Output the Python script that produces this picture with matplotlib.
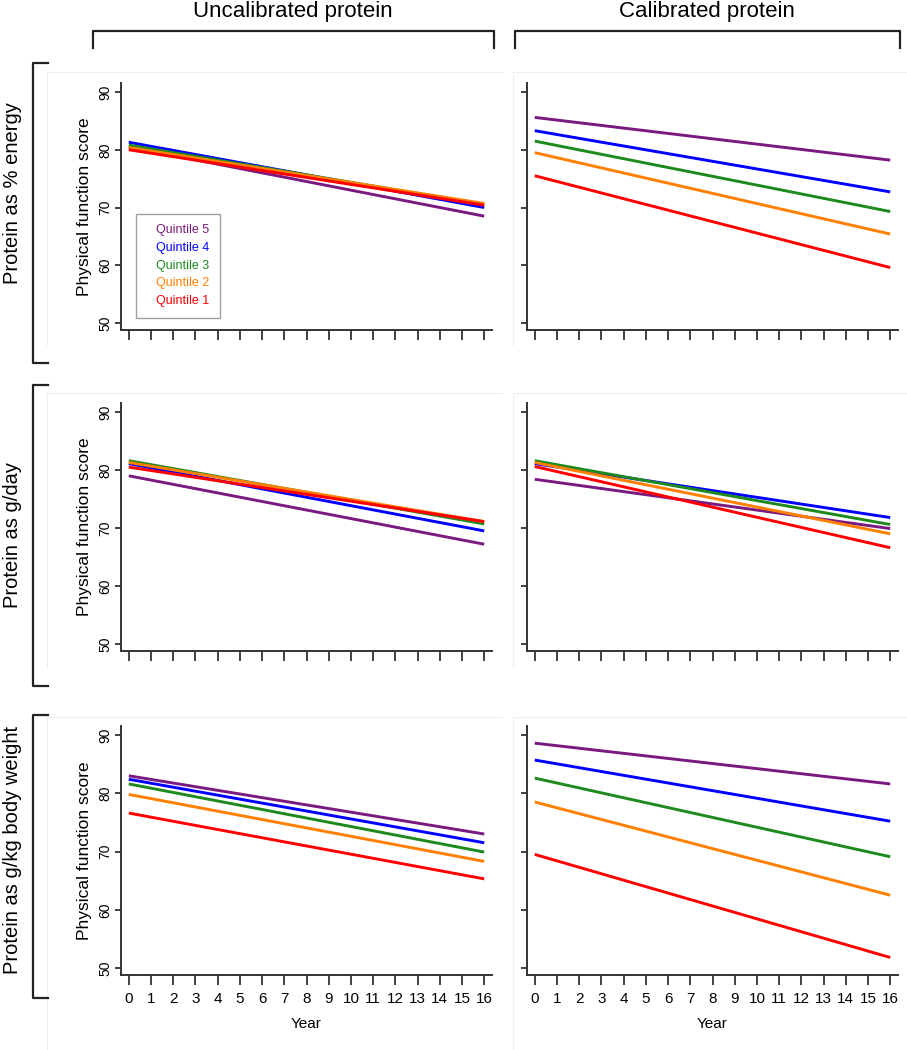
import matplotlib
matplotlib.use("Agg")
import matplotlib.pyplot as plt
from matplotlib.lines import Line2D

W, H = 907, 1050

years = [0, 16]
xticks = list(range(17))
yticks = [50, 60, 70, 80, 90]
quintiles = ["Quintile 1", "Quintile 2", "Quintile 3", "Quintile 4", "Quintile 5"]
colors = ["#ff0000", "#ff7f00", "#1e8a1e", "#0000ff", "#7a1a80"]

col_titles = ["Uncalibrated protein", "Calibrated protein"]
row_titles = ["Protein as % energy", "Protein as g/day", "Protein as g/kg body weight"]

# score at year 0 and year 16, quintile 1..5
energy_uncal_start = [80.0, 80.4, 80.8, 81.3, 80.5]
energy_uncal_end = [70.4, 70.7, 70.5, 70.0, 68.5]
energy_cal_start = [75.5, 79.5, 81.5, 83.3, 85.6]
energy_cal_end = [59.6, 65.4, 69.3, 72.7, 78.2]

gday_uncal_start = [80.5, 81.3, 81.6, 81.1, 79.0]
gday_uncal_end = [71.1, 71.1, 70.7, 69.5, 67.2]
gday_cal_start = [80.6, 81.3, 81.6, 81.1, 78.4]
gday_cal_end = [66.6, 69.0, 70.6, 71.8, 69.9]

gkg_uncal_start = [76.6, 79.8, 81.6, 82.4, 83.0]
gkg_uncal_end = [65.3, 68.3, 69.9, 71.5, 73.0]
gkg_cal_start = [69.5, 78.5, 82.6, 85.7, 88.6]
gkg_cal_end = [51.8, 62.5, 69.1, 75.2, 81.6]

panels = [
    [(energy_uncal_start, energy_uncal_end), (energy_cal_start, energy_cal_end)],
    [(gday_uncal_start, gday_uncal_end), (gday_cal_start, gday_cal_end)],
    [(gkg_uncal_start, gkg_uncal_end), (gkg_cal_start, gkg_cal_end)],
]

plt.rcParams["font.family"] = ["Liberation Sans", "DejaVu Sans"]
narrow = ["Liberation Sans Narrow", "Liberation Sans", "DejaVu Sans"]

fig = plt.figure(figsize=(W / 100, H / 100), dpi=100)


def fx(x):
    return x / W


def fy(y):
    return 1 - y / H


# layout in pixels
col_left = [121, 527]
col_width = 371
row_y90 = [92, 412, 735]
row_y50 = [323, 644, 968]
ylim = (48.8, 91.5)
xlim = (-0.35, 16.35)

# faint panel frames
for (x0, x1) in [(47, 502), (513, 907)]:
    for (y0, y1) in [(72, 345), (393, 667), (717, 1050)]:
        fig.add_artist(Line2D([fx(x0), fx(x1)], [fy(y0), fy(y0)], color="#e8f0f3", lw=0.8))
        fig.add_artist(Line2D([fx(x0), fx(x0)], [fy(y0), fy(y1)], color="#e8f0f3", lw=0.8))

for r in range(3):
    ppu = (row_y50[r] - row_y90[r]) / 40.0
    top = row_y90[r] - (ylim[1] - 90) * ppu
    bot = row_y50[r] + (50 - ylim[0]) * ppu
    for c in range(2):
        ax = fig.add_axes([fx(col_left[c]), fy(bot), col_width / W, (bot - top) / H])
        starts, ends = panels[r][c]
        for q in range(4, -1, -1):
            ax.plot(years, [starts[q], ends[q]], color=colors[q], lw=2.1,
                    solid_capstyle="butt", label=quintiles[q])
        ax.set_xlim(*xlim)
        ax.set_ylim(*ylim)
        ax.set_xticks(xticks)
        ax.set_yticks(yticks)
        for s in ["top", "right"]:
            ax.spines[s].set_visible(False)
        for s in ["left", "bottom"]:
            ax.spines[s].set_color("#333333")
            ax.spines[s].set_linewidth(1.4)
        ax.tick_params(axis="x", direction="out", length=7.5, width=1.3, color="#333333",
                       labelsize=11, pad=5)
        ax.tick_params(axis="y", direction="out", length=4.5, width=1.3, color="#333333",
                       labelsize=10, labelrotation=90, pad=2)
        for lab in ax.get_yticklabels():
            lab.set_va("center")
        if r < 2:
            ax.set_xticklabels([])
        else:
            ax.set_xlabel("Year", fontsize=11, labelpad=8)
        if c == 1:
            ax.set_yticklabels([])
        else:
            ax.set_ylabel("Physical function score", fontsize=12.5, labelpad=4)
        if r == 0 and c == 0:
            leg = ax.legend(loc="lower left", bbox_to_anchor=(0.04, 0.05), borderaxespad=0,
                            handlelength=0.8, handletextpad=0, fontsize=9, frameon=True,
                            fancybox=False, edgecolor="#888888", labelspacing=0.45,
                            borderpad=0.85)
            leg.get_frame().set_linewidth(1.0)
            for h in leg.legend_handles:
                h.set_visible(False)
            for txt, col in zip(leg.get_texts(), colors[::-1]):
                txt.set_color(col)

# column headers with brackets
col_br = [(93, 494, 293), (515, 900, 707)]
for (x0, x1, xc), title in zip(col_br, col_titles):
    fig.text(fx(xc), fy(12), title, ha="center", va="center", fontsize=16, family=narrow)
    fig.add_artist(Line2D([fx(x0), fx(x0), fx(x1), fx(x1)], [fy(48), fy(31), fy(31), fy(48)],
                          color="#222222", lw=1.6))

# row labels with brackets
row_br = [(63, 363, 193), (385, 686, 535), (715, 998, 850)]
for (y0, y1, yc), title in zip(row_br, row_titles):
    fig.text(fx(13), fy(yc), title, ha="center", va="center", rotation=90, fontsize=14.5)
    fig.add_artist(Line2D([fx(48), fx(33), fx(33), fx(48)], [fy(y0), fy(y0), fy(y1), fy(y1)],
                          color="#222222", lw=1.6))

fig.savefig("out.png", dpi=100, facecolor="white")
